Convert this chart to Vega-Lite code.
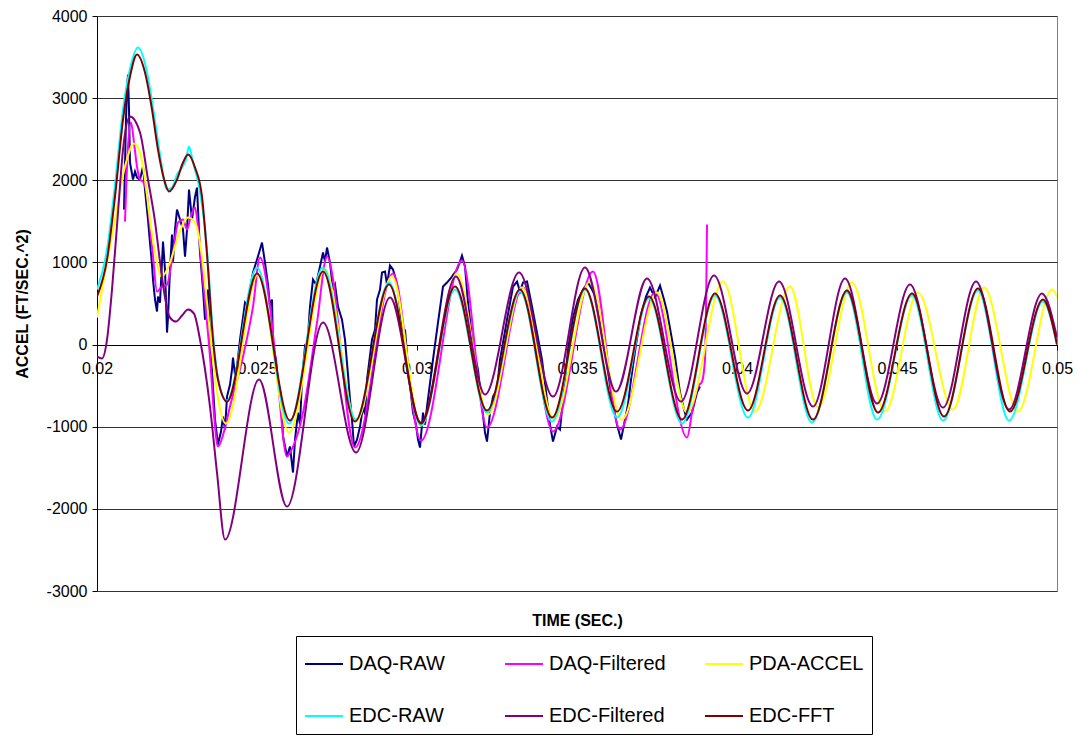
{
"$schema": "https://vega.github.io/schema/vega-lite/v6.json",
"width": 960, "height": 575,
"autosize": {"type": "none"},
"padding": {"left": 97, "top": 16, "right": 22, "bottom": 145},
"background": "white",
"config": {
  "font": "Liberation Sans",
  "view": {"stroke": "#808080", "strokeWidth": 1},
  "axis": {"labelFont": "Liberation Sans", "titleFont": "Liberation Sans", "labelColor": "#000", "titleColor": "#000"}
},
"data": {"values": [
{"s":"DAQ-RAW","t":0.020844,"v":1643},{"s":"DAQ-RAW","t":0.020906,"v":2739},{"s":"DAQ-RAW","t":0.020938,"v":3104},{"s":"DAQ-RAW","t":0.020969,"v":3287},{"s":"DAQ-RAW","t":0.021,"v":2861},{"s":"DAQ-RAW","t":0.021031,"v":2216},{"s":"DAQ-RAW","t":0.021125,"v":2009},{"s":"DAQ-RAW","t":0.021188,"v":2106},{"s":"DAQ-RAW","t":0.02125,"v":2033},{"s":"DAQ-RAW","t":0.021344,"v":2009},{"s":"DAQ-RAW","t":0.021438,"v":2167},{"s":"DAQ-RAW","t":0.0215,"v":1887},{"s":"DAQ-RAW","t":0.021594,"v":1522},{"s":"DAQ-RAW","t":0.021656,"v":1242},{"s":"DAQ-RAW","t":0.021719,"v":974},{"s":"DAQ-RAW","t":0.02175,"v":791},{"s":"DAQ-RAW","t":0.021813,"v":548},{"s":"DAQ-RAW","t":0.021875,"v":402},{"s":"DAQ-RAW","t":0.021906,"v":584},{"s":"DAQ-RAW","t":0.021969,"v":511},{"s":"DAQ-RAW","t":0.022063,"v":1254},{"s":"DAQ-RAW","t":0.022125,"v":913},{"s":"DAQ-RAW","t":0.022188,"v":146},{"s":"DAQ-RAW","t":0.022219,"v":329},{"s":"DAQ-RAW","t":0.022281,"v":913},{"s":"DAQ-RAW","t":0.022344,"v":1339},{"s":"DAQ-RAW","t":0.022375,"v":1010},{"s":"DAQ-RAW","t":0.022438,"v":1400},{"s":"DAQ-RAW","t":0.0225,"v":1643},{"s":"DAQ-RAW","t":0.022594,"v":1522},{"s":"DAQ-RAW","t":0.022688,"v":1400},{"s":"DAQ-RAW","t":0.02275,"v":1071},{"s":"DAQ-RAW","t":0.022813,"v":1400},{"s":"DAQ-RAW","t":0.022875,"v":1887},{"s":"DAQ-RAW","t":0.022969,"v":1522},{"s":"DAQ-RAW","t":0.023063,"v":1802},{"s":"DAQ-RAW","t":0.023125,"v":1911},{"s":"DAQ-RAW","t":0.023219,"v":1120},{"s":"DAQ-RAW","t":0.023313,"v":670},{"s":"DAQ-RAW","t":0.023375,"v":304},{"s":"DAQ-RAW","t":0.023438,"v":511},{"s":"DAQ-RAW","t":0.023469,"v":670},{"s":"DAQ-RAW","t":0.023531,"v":61},{"s":"DAQ-RAW","t":0.023594,"v":-329},{"s":"DAQ-RAW","t":0.023688,"v":-913},{"s":"DAQ-RAW","t":0.023781,"v":-1217},{"s":"DAQ-RAW","t":0.023875,"v":-1059},{"s":"DAQ-RAW","t":0.023938,"v":-877},{"s":"DAQ-RAW","t":0.024,"v":-1035},{"s":"DAQ-RAW","t":0.024063,"v":-633},{"s":"DAQ-RAW","t":0.024156,"v":-487},{"s":"DAQ-RAW","t":0.024219,"v":-304},{"s":"DAQ-RAW","t":0.02425,"v":-158},{"s":"DAQ-RAW","t":0.024313,"v":-365},{"s":"DAQ-RAW","t":0.024375,"v":-268},{"s":"DAQ-RAW","t":0.024469,"v":61},{"s":"DAQ-RAW","t":0.024563,"v":329},{"s":"DAQ-RAW","t":0.024625,"v":511},{"s":"DAQ-RAW","t":0.024719,"v":463},{"s":"DAQ-RAW","t":0.024781,"v":670},{"s":"DAQ-RAW","t":0.024875,"v":877},{"s":"DAQ-RAW","t":0.025,"v":1035},{"s":"DAQ-RAW","t":0.025094,"v":1157},{"s":"DAQ-RAW","t":0.025156,"v":1242},{"s":"DAQ-RAW","t":0.02525,"v":998},{"s":"DAQ-RAW","t":0.025344,"v":730},{"s":"DAQ-RAW","t":0.025406,"v":463},{"s":"DAQ-RAW","t":0.025469,"v":548},{"s":"DAQ-RAW","t":0.0255,"v":-24},{"s":"DAQ-RAW","t":0.025594,"v":-183},{"s":"DAQ-RAW","t":0.025656,"v":-463},{"s":"DAQ-RAW","t":0.02575,"v":-609},{"s":"DAQ-RAW","t":0.025813,"v":-1120},{"s":"DAQ-RAW","t":0.025938,"v":-1363},{"s":"DAQ-RAW","t":0.026031,"v":-1242},{"s":"DAQ-RAW","t":0.026125,"v":-1558},{"s":"DAQ-RAW","t":0.026188,"v":-1157},{"s":"DAQ-RAW","t":0.026281,"v":-828},{"s":"DAQ-RAW","t":0.026344,"v":-974},{"s":"DAQ-RAW","t":0.026406,"v":-426},{"s":"DAQ-RAW","t":0.0265,"v":-24},{"s":"DAQ-RAW","t":0.026563,"v":-61},{"s":"DAQ-RAW","t":0.026656,"v":463},{"s":"DAQ-RAW","t":0.02675,"v":791},{"s":"DAQ-RAW","t":0.026844,"v":730},{"s":"DAQ-RAW","t":0.026969,"v":950},{"s":"DAQ-RAW","t":0.027063,"v":1120},{"s":"DAQ-RAW","t":0.027125,"v":1010},{"s":"DAQ-RAW","t":0.027188,"v":1181},{"s":"DAQ-RAW","t":0.027281,"v":998},{"s":"DAQ-RAW","t":0.027375,"v":670},{"s":"DAQ-RAW","t":0.027438,"v":730},{"s":"DAQ-RAW","t":0.027531,"v":463},{"s":"DAQ-RAW","t":0.027656,"v":304},{"s":"DAQ-RAW","t":0.02775,"v":61},{"s":"DAQ-RAW","t":0.027844,"v":-365},{"s":"DAQ-RAW","t":0.027906,"v":-670},{"s":"DAQ-RAW","t":0.027969,"v":-913},{"s":"DAQ-RAW","t":0.028031,"v":-1242},{"s":"DAQ-RAW","t":0.028125,"v":-1157},{"s":"DAQ-RAW","t":0.028219,"v":-998},{"s":"DAQ-RAW","t":0.028313,"v":-755},{"s":"DAQ-RAW","t":0.028375,"v":-852},{"s":"DAQ-RAW","t":0.028438,"v":-426},{"s":"DAQ-RAW","t":0.028594,"v":61},{"s":"DAQ-RAW","t":0.028688,"v":183},{"s":"DAQ-RAW","t":0.02875,"v":548},{"s":"DAQ-RAW","t":0.028844,"v":670},{"s":"DAQ-RAW","t":0.028906,"v":877},{"s":"DAQ-RAW","t":0.029,"v":889},{"s":"DAQ-RAW","t":0.029063,"v":730},{"s":"DAQ-RAW","t":0.029156,"v":962},{"s":"DAQ-RAW","t":0.02925,"v":913},{"s":"DAQ-RAW","t":0.029313,"v":828},{"s":"DAQ-RAW","t":0.029406,"v":670},{"s":"DAQ-RAW","t":0.029563,"v":97},{"s":"DAQ-RAW","t":0.029625,"v":183},{"s":"DAQ-RAW","t":0.029719,"v":-268},{"s":"DAQ-RAW","t":0.029875,"v":-828},{"s":"DAQ-RAW","t":0.029969,"v":-974},{"s":"DAQ-RAW","t":0.030031,"v":-1157},{"s":"DAQ-RAW","t":0.030094,"v":-1254},{"s":"DAQ-RAW","t":0.030188,"v":-828},{"s":"DAQ-RAW","t":0.03025,"v":-974},{"s":"DAQ-RAW","t":0.030313,"v":-755},{"s":"DAQ-RAW","t":0.0305,"v":-183},{"s":"DAQ-RAW","t":0.030656,"v":268},{"s":"DAQ-RAW","t":0.030813,"v":706},{"s":"DAQ-RAW","t":0.030938,"v":755},{"s":"DAQ-RAW","t":0.031094,"v":828},{"s":"DAQ-RAW","t":0.03125,"v":913},{"s":"DAQ-RAW","t":0.031344,"v":1010},{"s":"DAQ-RAW","t":0.031406,"v":1083},{"s":"DAQ-RAW","t":0.0315,"v":950},{"s":"DAQ-RAW","t":0.031594,"v":511},{"s":"DAQ-RAW","t":0.03175,"v":-24},{"s":"DAQ-RAW","t":0.031906,"v":-304},{"s":"DAQ-RAW","t":0.032031,"v":-755},{"s":"DAQ-RAW","t":0.032125,"v":-1071},{"s":"DAQ-RAW","t":0.032188,"v":-1181},{"s":"DAQ-RAW","t":0.032281,"v":-828},{"s":"DAQ-RAW","t":0.032375,"v":-633},{"s":"DAQ-RAW","t":0.0325,"v":-548},{"s":"DAQ-RAW","t":0.032594,"v":-183},{"s":"DAQ-RAW","t":0.032813,"v":304},{"s":"DAQ-RAW","t":0.033,"v":706},{"s":"DAQ-RAW","t":0.033125,"v":767},{"s":"DAQ-RAW","t":0.033219,"v":645},{"s":"DAQ-RAW","t":0.033313,"v":755},{"s":"DAQ-RAW","t":0.033438,"v":767},{"s":"DAQ-RAW","t":0.033594,"v":463},{"s":"DAQ-RAW","t":0.03375,"v":146},{"s":"DAQ-RAW","t":0.033906,"v":-183},{"s":"DAQ-RAW","t":0.034063,"v":-670},{"s":"DAQ-RAW","t":0.034156,"v":-974},{"s":"DAQ-RAW","t":0.03425,"v":-1181},{"s":"DAQ-RAW","t":0.034375,"v":-998},{"s":"DAQ-RAW","t":0.034469,"v":-1035},{"s":"DAQ-RAW","t":0.034563,"v":-670},{"s":"DAQ-RAW","t":0.034719,"v":-61},{"s":"DAQ-RAW","t":0.034875,"v":329},{"s":"DAQ-RAW","t":0.035031,"v":548},{"s":"DAQ-RAW","t":0.035188,"v":670},{"s":"DAQ-RAW","t":0.035344,"v":755},{"s":"DAQ-RAW","t":0.035469,"v":670},{"s":"DAQ-RAW","t":0.035625,"v":548},{"s":"DAQ-RAW","t":0.035781,"v":183},{"s":"DAQ-RAW","t":0.035938,"v":-243},{"s":"DAQ-RAW","t":0.036094,"v":-670},{"s":"DAQ-RAW","t":0.03625,"v":-974},{"s":"DAQ-RAW","t":0.036375,"v":-1157},{"s":"DAQ-RAW","t":0.036469,"v":-974},{"s":"DAQ-RAW","t":0.036594,"v":-730},{"s":"DAQ-RAW","t":0.036688,"v":-426},{"s":"DAQ-RAW","t":0.036844,"v":0},{"s":"DAQ-RAW","t":0.037,"v":365},{"s":"DAQ-RAW","t":0.037156,"v":584},{"s":"DAQ-RAW","t":0.037281,"v":694},{"s":"DAQ-RAW","t":0.037438,"v":572},{"s":"DAQ-RAW","t":0.037594,"v":718},{"s":"DAQ-RAW","t":0.037719,"v":548},{"s":"DAQ-RAW","t":0.037813,"v":402},{"s":"DAQ-RAW","t":0.037969,"v":61},{"s":"DAQ-RAW","t":0.038063,"v":-146},{"s":"DAQ-RAW","t":0.038219,"v":-584},{"s":"DAQ-RAW","t":0.038344,"v":-791},{"s":"DAQ-RAW","t":0.038438,"v":-913},{"s":"DAQ-RAW","t":0.038594,"v":-828},{"s":"DAQ-RAW","t":0.03875,"v":-584},{"s":"DAQ-RAW","t":0.038844,"v":-511},
{"s":"DAQ-Filtered","t":0.020875,"v":1497},{"s":"DAQ-Filtered","t":0.020969,"v":2410},{"s":"DAQ-Filtered","t":0.021063,"v":2703},{"s":"DAQ-Filtered","t":0.021156,"v":2459},{"s":"DAQ-Filtered","t":0.02125,"v":2167},{"s":"DAQ-Filtered","t":0.021344,"v":2009},{"s":"DAQ-Filtered","t":0.021438,"v":1984},{"s":"DAQ-Filtered","t":0.021563,"v":1826},{"s":"DAQ-Filtered","t":0.021656,"v":1437},{"s":"DAQ-Filtered","t":0.02175,"v":1071},{"s":"DAQ-Filtered","t":0.021875,"v":645},{"s":"DAQ-Filtered","t":0.022031,"v":706},{"s":"DAQ-Filtered","t":0.022188,"v":730},{"s":"DAQ-Filtered","t":0.022375,"v":1120},{"s":"DAQ-Filtered","t":0.022531,"v":1485},{"s":"DAQ-Filtered","t":0.022688,"v":1522},{"s":"DAQ-Filtered","t":0.022813,"v":1400},{"s":"DAQ-Filtered","t":0.022906,"v":1522},{"s":"DAQ-Filtered","t":0.023063,"v":1668},{"s":"DAQ-Filtered","t":0.023156,"v":1437},{"s":"DAQ-Filtered","t":0.023281,"v":913},{"s":"DAQ-Filtered","t":0.023438,"v":268},{"s":"DAQ-Filtered","t":0.023531,"v":-146},{"s":"DAQ-Filtered","t":0.023656,"v":-852},{"s":"DAQ-Filtered","t":0.023781,"v":-1242},{"s":"DAQ-Filtered","t":0.023969,"v":-1059},{"s":"DAQ-Filtered","t":0.024156,"v":-755},{"s":"DAQ-Filtered","t":0.024563,"v":-146},{"s":"DAQ-Filtered","t":0.024875,"v":463},{"s":"DAQ-Filtered","t":0.025094,"v":1059},{"s":"DAQ-Filtered","t":0.025406,"v":463},{"s":"DAQ-Filtered","t":0.025625,"v":-341},{"s":"DAQ-Filtered","t":0.025938,"v":-1363},{"s":"DAQ-Filtered","t":0.026031,"v":-1315},{"s":"DAQ-Filtered","t":0.026438,"v":-828},{"s":"DAQ-Filtered","t":0.026875,"v":268},{"s":"DAQ-Filtered","t":0.027188,"v":1071},{"s":"DAQ-Filtered","t":0.028063,"v":-1254},{"s":"DAQ-Filtered","t":0.02925,"v":864},{"s":"DAQ-Filtered","t":0.030125,"v":-1169},{"s":"DAQ-Filtered","t":0.031406,"v":1023},{"s":"DAQ-Filtered","t":0.032188,"v":-1010},{"s":"DAQ-Filtered","t":0.033313,"v":694},{"s":"DAQ-Filtered","t":0.03425,"v":-1059},{"s":"DAQ-Filtered","t":0.0355,"v":889},{"s":"DAQ-Filtered","t":0.036344,"v":-1035},{"s":"DAQ-Filtered","t":0.037438,"v":633},{"s":"DAQ-Filtered","t":0.038438,"v":-1132},{"s":"DAQ-Filtered","t":0.038625,"v":-755},{"s":"DAQ-Filtered","t":0.038781,"v":-511},{"s":"DAQ-Filtered","t":0.038906,"v":-450},{"s":"DAQ-Filtered","t":0.039,"v":-183},{"s":"DAQ-Filtered","t":0.039063,"v":1461},
{"s":"PDA-ACCEL","t":0.02,"v":329},{"s":"PDA-ACCEL","t":0.02025,"v":877},{"s":"PDA-ACCEL","t":0.020563,"v":1522},{"s":"PDA-ACCEL","t":0.020875,"v":2167},{"s":"PDA-ACCEL","t":0.021156,"v":2447},{"s":"PDA-ACCEL","t":0.021344,"v":2337},{"s":"PDA-ACCEL","t":0.0215,"v":2009},{"s":"PDA-ACCEL","t":0.021656,"v":1522},{"s":"PDA-ACCEL","t":0.021813,"v":1120},{"s":"PDA-ACCEL","t":0.022031,"v":828},{"s":"PDA-ACCEL","t":0.022281,"v":998},{"s":"PDA-ACCEL","t":0.022531,"v":1315},{"s":"PDA-ACCEL","t":0.022844,"v":1546},{"s":"PDA-ACCEL","t":0.023063,"v":1485},{"s":"PDA-ACCEL","t":0.023281,"v":1071},{"s":"PDA-ACCEL","t":0.023438,"v":511},{"s":"PDA-ACCEL","t":0.023594,"v":-97},{"s":"PDA-ACCEL","t":0.024031,"v":-962},{"s":"PDA-ACCEL","t":0.025031,"v":852},{"s":"PDA-ACCEL","t":0.026,"v":-1071},{"s":"PDA-ACCEL","t":0.027125,"v":913},{"s":"PDA-ACCEL","t":0.028094,"v":-937},{"s":"PDA-ACCEL","t":0.029219,"v":828},{"s":"PDA-ACCEL","t":0.030125,"v":-986},{"s":"PDA-ACCEL","t":0.03125,"v":864},{"s":"PDA-ACCEL","t":0.032219,"v":-852},{"s":"PDA-ACCEL","t":0.033281,"v":694},{"s":"PDA-ACCEL","t":0.034281,"v":-913},{"s":"PDA-ACCEL","t":0.035406,"v":767},{"s":"PDA-ACCEL","t":0.036406,"v":-913},{"s":"PDA-ACCEL","t":0.0375,"v":633},{"s":"PDA-ACCEL","t":0.038438,"v":-828},{"s":"PDA-ACCEL","t":0.039563,"v":767},{"s":"PDA-ACCEL","t":0.040563,"v":-816},{"s":"PDA-ACCEL","t":0.041656,"v":706},{"s":"PDA-ACCEL","t":0.042531,"v":-767},{"s":"PDA-ACCEL","t":0.043594,"v":755},{"s":"PDA-ACCEL","t":0.044625,"v":-816},{"s":"PDA-ACCEL","t":0.045656,"v":633},{"s":"PDA-ACCEL","t":0.04675,"v":-791},{"s":"PDA-ACCEL","t":0.047719,"v":694},{"s":"PDA-ACCEL","t":0.048781,"v":-816},{"s":"PDA-ACCEL","t":0.049844,"v":670},{"s":"PDA-ACCEL","t":0.05,"v":584},
{"s":"EDC-RAW","t":0.02,"v":670},{"s":"EDC-RAW","t":0.020313,"v":1157},{"s":"EDC-RAW","t":0.020563,"v":1948},{"s":"EDC-RAW","t":0.020813,"v":2861},{"s":"EDC-RAW","t":0.021063,"v":3409},{"s":"EDC-RAW","t":0.021281,"v":3616},{"s":"EDC-RAW","t":0.021531,"v":3372},{"s":"EDC-RAW","t":0.02175,"v":2885},{"s":"EDC-RAW","t":0.021969,"v":2313},{"s":"EDC-RAW","t":0.022188,"v":1887},{"s":"EDC-RAW","t":0.022344,"v":1911},{"s":"EDC-RAW","t":0.0225,"v":2070},{"s":"EDC-RAW","t":0.022656,"v":2155},{"s":"EDC-RAW","t":0.022781,"v":2252},{"s":"EDC-RAW","t":0.022875,"v":2410},{"s":"EDC-RAW","t":0.023,"v":2216},{"s":"EDC-RAW","t":0.023219,"v":1863},{"s":"EDC-RAW","t":0.023438,"v":1157},{"s":"EDC-RAW","t":0.023625,"v":122},{"s":"EDC-RAW","t":0.023781,"v":-402},{"s":"EDC-RAW","t":0.024063,"v":-682},{"s":"EDC-RAW","t":0.025,"v":937},{"s":"EDC-RAW","t":0.026,"v":-962},{"s":"EDC-RAW","t":0.027063,"v":937},{"s":"EDC-RAW","t":0.028094,"v":-913},{"s":"EDC-RAW","t":0.029125,"v":755},{"s":"EDC-RAW","t":0.030125,"v":-986},{"s":"EDC-RAW","t":0.031188,"v":670},{"s":"EDC-RAW","t":0.032188,"v":-828},{"s":"EDC-RAW","t":0.033219,"v":645},{"s":"EDC-RAW","t":0.034219,"v":-937},{"s":"EDC-RAW","t":0.03525,"v":670},{"s":"EDC-RAW","t":0.03625,"v":-889},{"s":"EDC-RAW","t":0.03725,"v":560},{"s":"EDC-RAW","t":0.038281,"v":-962},{"s":"EDC-RAW","t":0.039313,"v":597},{"s":"EDC-RAW","t":0.040344,"v":-889},{"s":"EDC-RAW","t":0.041344,"v":572},{"s":"EDC-RAW","t":0.042344,"v":-950},{"s":"EDC-RAW","t":0.043438,"v":633},{"s":"EDC-RAW","t":0.044375,"v":-913},{"s":"EDC-RAW","t":0.045469,"v":597},{"s":"EDC-RAW","t":0.046438,"v":-925},{"s":"EDC-RAW","t":0.047531,"v":657},{"s":"EDC-RAW","t":0.0485,"v":-925},{"s":"EDC-RAW","t":0.049563,"v":523},{"s":"EDC-RAW","t":0.05,"v":0},
{"s":"EDC-Filtered","t":0.02,"v":-146},{"s":"EDC-Filtered","t":0.020156,"v":-170},{"s":"EDC-Filtered","t":0.020313,"v":61},{"s":"EDC-Filtered","t":0.020469,"v":670},{"s":"EDC-Filtered","t":0.020656,"v":1607},{"s":"EDC-Filtered","t":0.020813,"v":2374},{"s":"EDC-Filtered","t":0.021031,"v":2776},{"s":"EDC-Filtered","t":0.021344,"v":2581},{"s":"EDC-Filtered","t":0.021594,"v":2009},{"s":"EDC-Filtered","t":0.021813,"v":1497},{"s":"EDC-Filtered","t":0.021969,"v":1010},{"s":"EDC-Filtered","t":0.022125,"v":572},{"s":"EDC-Filtered","t":0.022281,"v":329},{"s":"EDC-Filtered","t":0.022469,"v":280},{"s":"EDC-Filtered","t":0.022656,"v":353},{"s":"EDC-Filtered","t":0.022844,"v":426},{"s":"EDC-Filtered","t":0.023031,"v":377},{"s":"EDC-Filtered","t":0.023219,"v":61},{"s":"EDC-Filtered","t":0.023531,"v":-755},{"s":"EDC-Filtered","t":0.02375,"v":-1558},{"s":"EDC-Filtered","t":0.024,"v":-2374},{"s":"EDC-Filtered","t":0.025063,"v":-426},{"s":"EDC-Filtered","t":0.025938,"v":-1972},{"s":"EDC-Filtered","t":0.027063,"v":268},{"s":"EDC-Filtered","t":0.028094,"v":-1315},{"s":"EDC-Filtered","t":0.029156,"v":572},{"s":"EDC-Filtered","t":0.030125,"v":-950},{"s":"EDC-Filtered","t":0.031219,"v":828},{"s":"EDC-Filtered","t":0.032125,"v":-609},{"s":"EDC-Filtered","t":0.033188,"v":877},{"s":"EDC-Filtered","t":0.03425,"v":-633},{"s":"EDC-Filtered","t":0.03525,"v":937},{"s":"EDC-Filtered","t":0.036219,"v":-572},{"s":"EDC-Filtered","t":0.037188,"v":803},{"s":"EDC-Filtered","t":0.03825,"v":-694},{"s":"EDC-Filtered","t":0.039281,"v":840},{"s":"EDC-Filtered","t":0.040313,"v":-596},{"s":"EDC-Filtered","t":0.041313,"v":767},{"s":"EDC-Filtered","t":0.042375,"v":-755},{"s":"EDC-Filtered","t":0.043375,"v":803},{"s":"EDC-Filtered","t":0.044375,"v":-718},{"s":"EDC-Filtered","t":0.045406,"v":730},{"s":"EDC-Filtered","t":0.046438,"v":-767},{"s":"EDC-Filtered","t":0.047469,"v":767},{"s":"EDC-Filtered","t":0.0485,"v":-791},{"s":"EDC-Filtered","t":0.049531,"v":621},{"s":"EDC-Filtered","t":0.05,"v":85},
{"s":"EDC-FFT","t":0.02,"v":584},{"s":"EDC-FFT","t":0.020313,"v":1035},{"s":"EDC-FFT","t":0.020563,"v":1802},{"s":"EDC-FFT","t":0.020813,"v":2739},{"s":"EDC-FFT","t":0.021031,"v":3263},{"s":"EDC-FFT","t":0.02125,"v":3530},{"s":"EDC-FFT","t":0.0215,"v":3311},{"s":"EDC-FFT","t":0.021719,"v":2861},{"s":"EDC-FFT","t":0.021906,"v":2374},{"s":"EDC-FFT","t":0.022125,"v":1972},{"s":"EDC-FFT","t":0.02225,"v":1863},{"s":"EDC-FFT","t":0.0225,"v":2009},{"s":"EDC-FFT","t":0.022688,"v":2216},{"s":"EDC-FFT","t":0.022844,"v":2313},{"s":"EDC-FFT","t":0.023063,"v":2155},{"s":"EDC-FFT","t":0.023281,"v":1802},{"s":"EDC-FFT","t":0.023438,"v":1096},{"s":"EDC-FFT","t":0.023625,"v":61},{"s":"EDC-FFT","t":0.023781,"v":-426},{"s":"EDC-FFT","t":0.024063,"v":-694},{"s":"EDC-FFT","t":0.025,"v":864},{"s":"EDC-FFT","t":0.026031,"v":-925},{"s":"EDC-FFT","t":0.027063,"v":889},{"s":"EDC-FFT","t":0.028063,"v":-937},{"s":"EDC-FFT","t":0.029125,"v":730},{"s":"EDC-FFT","t":0.030125,"v":-962},{"s":"EDC-FFT","t":0.031188,"v":706},{"s":"EDC-FFT","t":0.032188,"v":-803},{"s":"EDC-FFT","t":0.033219,"v":670},{"s":"EDC-FFT","t":0.034219,"v":-889},{"s":"EDC-FFT","t":0.03525,"v":682},{"s":"EDC-FFT","t":0.03625,"v":-816},{"s":"EDC-FFT","t":0.03725,"v":584},{"s":"EDC-FFT","t":0.038281,"v":-913},{"s":"EDC-FFT","t":0.039313,"v":621},{"s":"EDC-FFT","t":0.040344,"v":-803},{"s":"EDC-FFT","t":0.041344,"v":597},{"s":"EDC-FFT","t":0.042375,"v":-913},{"s":"EDC-FFT","t":0.043438,"v":657},{"s":"EDC-FFT","t":0.044406,"v":-828},{"s":"EDC-FFT","t":0.045469,"v":621},{"s":"EDC-FFT","t":0.046469,"v":-876},{"s":"EDC-FFT","t":0.047531,"v":682},{"s":"EDC-FFT","t":0.048531,"v":-816},{"s":"EDC-FFT","t":0.049563,"v":548},{"s":"EDC-FFT","t":0.05,"v":0}
]},
"encoding": {
  "x": {"field": "t", "type": "quantitative",
        "scale": {"domain": [0.02, 0.05], "nice": false, "zero": false},
        "axis": {"offset": -246, "values": [0.02, 0.025, 0.03, 0.035, 0.04, 0.045, 0.05], "format": "~g",
                 "grid": false, "domainColor": "#000", "tickColor": "#000", "tickSize": 5,
                 "labelFontSize": 16, "labelPadding": 10, "labelFlush": false, "labelOverlap": false,
                 "title": "TIME (SEC.)", "titleFontSize": 16, "titleFontWeight": "bold",
                 "titleY": 275, "titleBaseline": "middle"}},
  "y": {"field": "v", "type": "quantitative",
        "scale": {"domain": [-3000, 4000], "nice": false},
        "axis": {"values": [-3000, -2000, -1000, 0, 1000, 2000, 3000, 4000], "labelExpr": "'' + datum.value", "grid": true,
                 "gridColor": "#333", "gridWidth": 1, "domainColor": "#000", "tickColor": "#000",
                 "tickSize": 5, "labelFontSize": 16, "labelPadding": 5,
                 "title": "ACCEL (FT/SEC.^2)", "titleFontSize": 16, "titleFontWeight": "bold", "titlePadding": 16}},
  "color": {"field": "s", "type": "nominal",
            "scale": {"domain": ["DAQ-RAW", "DAQ-Filtered", "PDA-ACCEL", "EDC-RAW", "EDC-Filtered", "EDC-FFT"],
                      "range": ["#000080", "#FF00FF", "#FFFF00", "#00FFFF", "#800080", "#800000"]},
            "legend": {"orient": "none", "legendX": 199, "legendY": 620, "direction": "horizontal", "columns": 3,
                       "title": null, "symbolType": "stroke", "symbolSize": 1444, "symbolStrokeWidth": 2,
                       "labelFontSize": 20, "labelOffset": 5, "labelColor": "#000", "labelLimit": 0,
                       "columnPadding": 35, "rowPadding": 22, "gridAlign": "all",
                       "strokeColor": "#000", "fillColor": "white", "padding": 8}}
},
"layer": [
  {"transform": [{"filter": "datum.s === 'DAQ-RAW'"}],
   "mark": {"type": "line", "strokeWidth": 2, "clip": true}},
  {"transform": [{"filter": "datum.s !== 'DAQ-RAW'"}],
   "mark": {"type": "line", "strokeWidth": 2, "interpolate": "monotone", "clip": true}}
]
}
